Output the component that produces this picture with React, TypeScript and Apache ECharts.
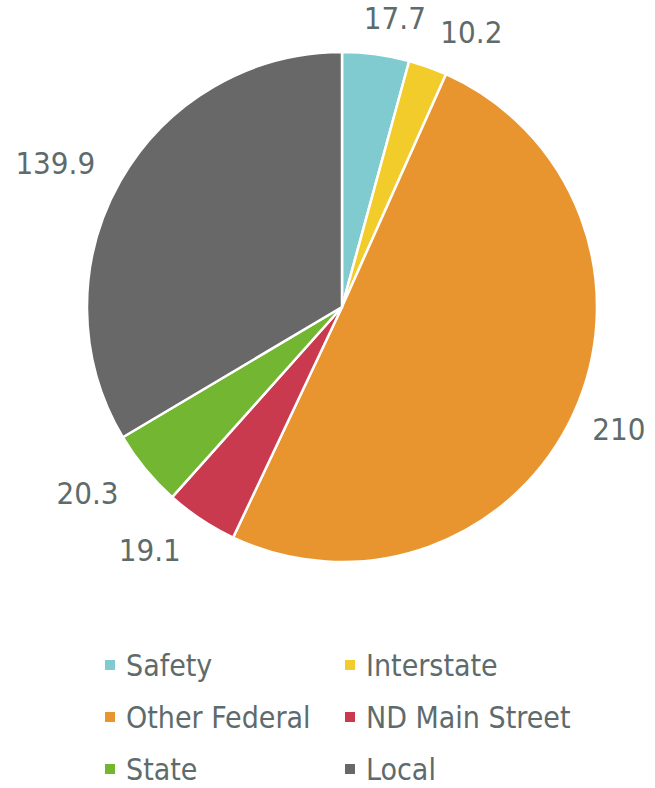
import React, { useEffect, useRef } from "react";
import * as echarts from "echarts";

const categories = ["Safety", "Interstate", "Other Federal", "ND Main Street", "State", "Local"];
const values = [17.7, 10.2, 210, 19.1, 20.3, 139.9];
const colors = ["#7fcbd0", "#f1cc2b", "#e8952f", "#c93a4e", "#72b631", "#686868"];
const legendCol1 = ["Safety", "Other Federal", "State"];
const legendCol2 = ["Interstate", "ND Main Street", "Local"];

const FONT = "'DejaVu Sans Condensed', 'DejaVu Sans', sans-serif";
const TEXT = "#5e6b6c";
// small horizontal nudges of the outside labels (layout only)
const labelNudge = [-17, 0, -15, 0, 2, 7];

export default function App() {
  const ref = useRef<HTMLDivElement>(null);
  useEffect(() => {
    if (!ref.current) return;
    const chart = echarts.init(ref.current, undefined, { renderer: "svg" });
    const legendBase = {
      orient: "vertical" as const,
      top: 650,
      height: 138,
      itemWidth: 12,
      itemHeight: 12,
      itemGap: 22,
      icon: "rect",
      padding: 0,
      textStyle: { fontFamily: FONT, fontSize: 30, color: TEXT, padding: [0, 0, 0, 5] },
    };
    chart.setOption({
      animation: false,
      color: colors,
      legend: [
        { ...legendBase, left: 103, data: legendCol1 },
        { ...legendBase, left: 343, data: legendCol2 },
      ],
      series: [
        {
          type: "pie",
          center: [342, 307],
          radius: [0, 255],
          startAngle: 90,
          clockwise: true,
          avoidLabelOverlap: false,
          itemStyle: { borderColor: "#ffffff", borderWidth: 2.5 },
          label: {
            show: true,
            position: "outside",
            formatter: (p: any) => String(p.value),
            fontFamily: FONT,
            fontSize: 31,
            color: TEXT,
            distanceToLabelLine: 0,
          },
          labelLine: { show: false, length: 37, length2: 0 },
          labelLayout: (p: any) => ({ dx: labelNudge[p.dataIndex] || 0, hideOverlap: false }),
          emphasis: { disabled: true },
          data: categories.map((name, i) => ({ name, value: values[i] })),
        },
      ],
    });
    return () => chart.dispose();
  }, []);
  return (
    <div
      ref={ref}
      style={{ position: "absolute", left: 0, top: 0, width: 655, height: 788, background: "#ffffff" }}
    />
  );
}
